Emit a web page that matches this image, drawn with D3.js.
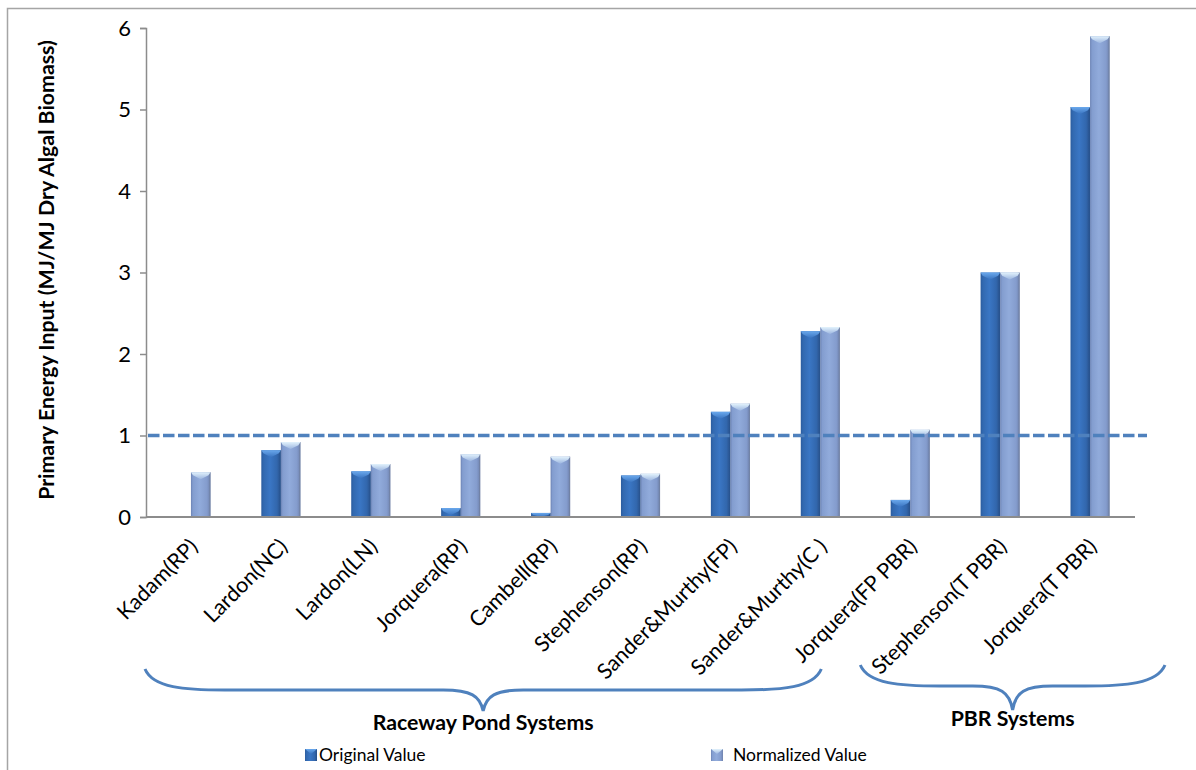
<!DOCTYPE html>
<html>
<head>
<meta charset="utf-8">
<script src="https://cdn.jsdelivr.net/npm/d3@7"></script>
<style>
  html, body { margin: 0; padding: 0; background: #ffffff; }
  svg { display: block; }
  text { font-family: Lato, "Open Sans", "DejaVu Sans", sans-serif; fill: #000; }
</style>
</head>
<body>
<svg id="chart" width="1196" height="770"></svg>
<script>
// Primary energy input per study, raceway ponds vs photobioreactors
const categories = [
  "Kadam(RP)", "Lardon(NC)", "Lardon(LN)", "Jorquera(RP)", "Cambell(RP)",
  "Stephenson(RP)", "Sander&Murthy(FP)", "Sander&Murthy(C )",
  "Jorquera(FP PBR)", "Stephenson(T PBR)", "Jorquera(T PBR)"
];
const seriesNames = ["Original Value", "Normalized Value"];
const originalValues   = [0.01, 0.82, 0.56, 0.11, 0.05, 0.51, 1.29, 2.28, 0.21, 3.00, 5.03];
const normalizedValues = [0.55, 0.92, 0.65, 0.77, 0.74, 0.53, 1.39, 2.33, 1.07, 3.00, 5.90];
const yTicks = [0, 1, 2, 3, 4, 5, 6];
const referenceLevel = 1;
const groups = [
  { label: "Raceway Pond Systems", first: "Kadam(RP)", last: "Sander&Murthy(C )" },
  { label: "PBR Systems", first: "Jorquera(FP PBR)", last: "Jorquera(T PBR)" }
];

const svg = d3.select("#chart");
const defs = svg.append("defs");

// Cylinder-like shading for each series
function hGrad(id, stops) {
  const g = defs.append("linearGradient").attr("id", id)
    .attr("x1", "0%").attr("x2", "100%").attr("y1", "0%").attr("y2", "0%");
  stops.forEach(([o, c]) => g.append("stop").attr("offset", o).attr("stop-color", c));
}
function vGrad(id, stops) {
  const g = defs.append("linearGradient").attr("id", id)
    .attr("x1", "0%").attr("x2", "0%").attr("y1", "0%").attr("y2", "100%");
  stops.forEach(([o, c]) => g.append("stop").attr("offset", o).attr("stop-color", c));
}
hGrad("g-orig", [["0%", "#2b5c9e"], ["12%", "#3269b0"], ["45%", "#3a76c4"], ["80%", "#3267ad"], ["100%", "#284f88"]]);
hGrad("g-norm", [["0%", "#6c83b4"], ["10%", "#839dcf"], ["45%", "#91abdb"], ["82%", "#849ccd"], ["100%", "#6f82ad"]]);
vGrad("c-orig", [["0%", "#6aa8ec"], ["100%", "#3a74c0"]]);
vGrad("c-norm", [["0%", "#e2f2fc"], ["100%", "#9cb6e0"]]);

svg.append("rect")
  .attr("x", 7.5).attr("y", 8.5).attr("width", 1240).attr("height", 820)
  .attr("fill", "none").attr("stroke", "#a5a5a5").attr("stroke-width", 1.5);

const plot = { left: 146, right: 1135, top: 28, bottom: 517 };

const x = d3.scaleBand().domain(categories).range([plot.left, plot.right]).padding(0);
const xs = d3.scaleBand().domain(seriesNames).range([0, x.bandwidth()])
  .paddingInner(0).paddingOuter(1.3);
const y = d3.scaleLinear().domain([0, 6]).range([plot.bottom, plot.top]);

// Y axis
const yAxis = svg.append("g")
  .attr("transform", `translate(${plot.left},0)`)
  .call(d3.axisLeft(y).tickValues(yTicks).tickFormat(d3.format("d")).tickSize(6).tickPadding(9));
yAxis.select(".domain").attr("stroke", "#8c8c8c").attr("stroke-width", 1.5);
yAxis.selectAll(".tick line").attr("stroke", "#8c8c8c").attr("stroke-width", 1.5);
yAxis.selectAll(".tick text")
  .style("font-family", "Lato, sans-serif").style("font-size", "22px").attr("fill", "#000");

svg.append("text")
  .attr("transform", `translate(54,270) rotate(-90)`)
  .attr("text-anchor", "middle")
  .style("font-size", "21.3px").style("font-weight", "bold")
  .text("Primary Energy Input (MJ/MJ Dry Algal Biomass)");

// Bars
const rows = categories.map((c, i) => ({
  cat: c,
  vals: [
    { key: seriesNames[0], v: originalValues[i], fill: "url(#g-orig)", cap: "url(#c-orig)", edge: "#2a5590" },
    { key: seriesNames[1], v: normalizedValues[i], fill: "url(#g-norm)", cap: "url(#c-norm)", edge: "#71809f" }
  ]
}));

const barG = svg.append("g");
rows.forEach(r => {
  r.vals.forEach(d => {
    const x0 = x(r.cat) + xs(d.key);
    const w = xs.bandwidth();
    const top = y(d.v);
    const h = y(0) - top;
    const g = barG.append("g");
    g.append("rect")
      .attr("x", x0).attr("y", top).attr("width", w).attr("height", h)
      .attr("fill", d.fill);
    g.append("rect")
      .attr("x", x0 + w - 1.2).attr("y", top).attr("width", 1.2).attr("height", h)
      .attr("fill", d.edge).attr("opacity", 0.7);
    const capH = Math.min(7, h);
    if (capH > 0.5) {
      g.append("path")
        .attr("d", `M${x0},${top} L${x0 + w},${top} L${x0 + w - 2},${top + capH * 0.45} L${x0 + w / 2},${top + capH} L${x0 + 2},${top + capH * 0.45} Z`)
        .attr("fill", d.cap);
    }
  });
});

// X axis line
svg.append("line")
  .attr("x1", plot.left).attr("x2", plot.right)
  .attr("y1", y(0)).attr("y2", y(0))
  .attr("stroke", "#8c8c8c").attr("stroke-width", 2.2);

// Reference level line
svg.append("line")
  .attr("x1", plot.left + 2).attr("x2", plot.right + 12)
  .attr("y1", y(referenceLevel)).attr("y2", y(referenceLevel))
  .attr("stroke", "#4f81bd").attr("stroke-width", 3.5)
  .attr("stroke-dasharray", "11.5,3.5");

// Category labels
svg.append("g").selectAll("text")
  .data(categories).join("text")
  .attr("transform", d => `translate(${x(d) + x.bandwidth() / 2 + 8},${y(0) + 31}) rotate(-45)`)
  .attr("text-anchor", "end")
  .style("font-size", "21.5px")
  .text(d => d);

// Group braces
function brace(xl, xr, yEnd, yMid, yTip, xTip) {
  return `M${xl},${yEnd} C${xl + 8},${yMid - 2} ${xl + 40},${yMid} ${xl + 80},${yMid}` +
    ` L${xTip - 40},${yMid} C${xTip - 12},${yMid} ${xTip - 3},${yMid + 6} ${xTip},${yTip}` +
    ` C${xTip + 3},${yMid + 6} ${xTip + 12},${yMid} ${xTip + 40},${yMid}` +
    ` L${xr - 80},${yMid} C${xr - 40},${yMid} ${xr - 8},${yMid - 2} ${xr},${yEnd}`;
}
const braceSpec = [
  { xl: plot.left - 1, xr: x(groups[0].last) + x.bandwidth() / 2 + 1, yEnd: 669, yMid: 690, yTip: 711, labelY: 730 },
  { xl: x(groups[1].first) - 5, xr: plot.right + 30, yEnd: 665, yMid: 686, yTip: 710, labelY: 726 }
];
groups.forEach((gr, i) => {
  const b = braceSpec[i];
  const xm = (b.xl + b.xr) / 2;
  svg.append("path")
    .attr("d", brace(b.xl, b.xr, b.yEnd, b.yMid, b.yTip, xm))
    .attr("fill", "none").attr("stroke", "#4f81bd").attr("stroke-width", 3);
  svg.append("text")
    .attr("x", xm).attr("y", b.labelY)
    .attr("text-anchor", "middle")
    .style("font-size", "21.3px").style("font-weight", "bold")
    .text(gr.label);
});

// Legend
const legendItems = [
  { name: seriesNames[0], fill: "url(#g-orig)", cap: "url(#c-orig)", x: 305, tx: 319 },
  { name: seriesNames[1], fill: "url(#g-norm)", cap: "url(#c-norm)", x: 711, tx: 733 }
];
const lg = svg.append("g");
legendItems.forEach(it => {
  lg.append("rect").attr("x", it.x).attr("y", 749).attr("width", 12).attr("height", 12).attr("fill", it.fill);
  lg.append("path")
    .attr("d", `M${it.x},749 L${it.x + 12},749 L${it.x + 6},754 Z`)
    .attr("fill", it.cap);
  lg.append("text")
    .attr("x", it.tx).attr("y", 761)
    .style("font-size", "17.5px")
    .text(it.name);
});
</script>
</body>
</html>
